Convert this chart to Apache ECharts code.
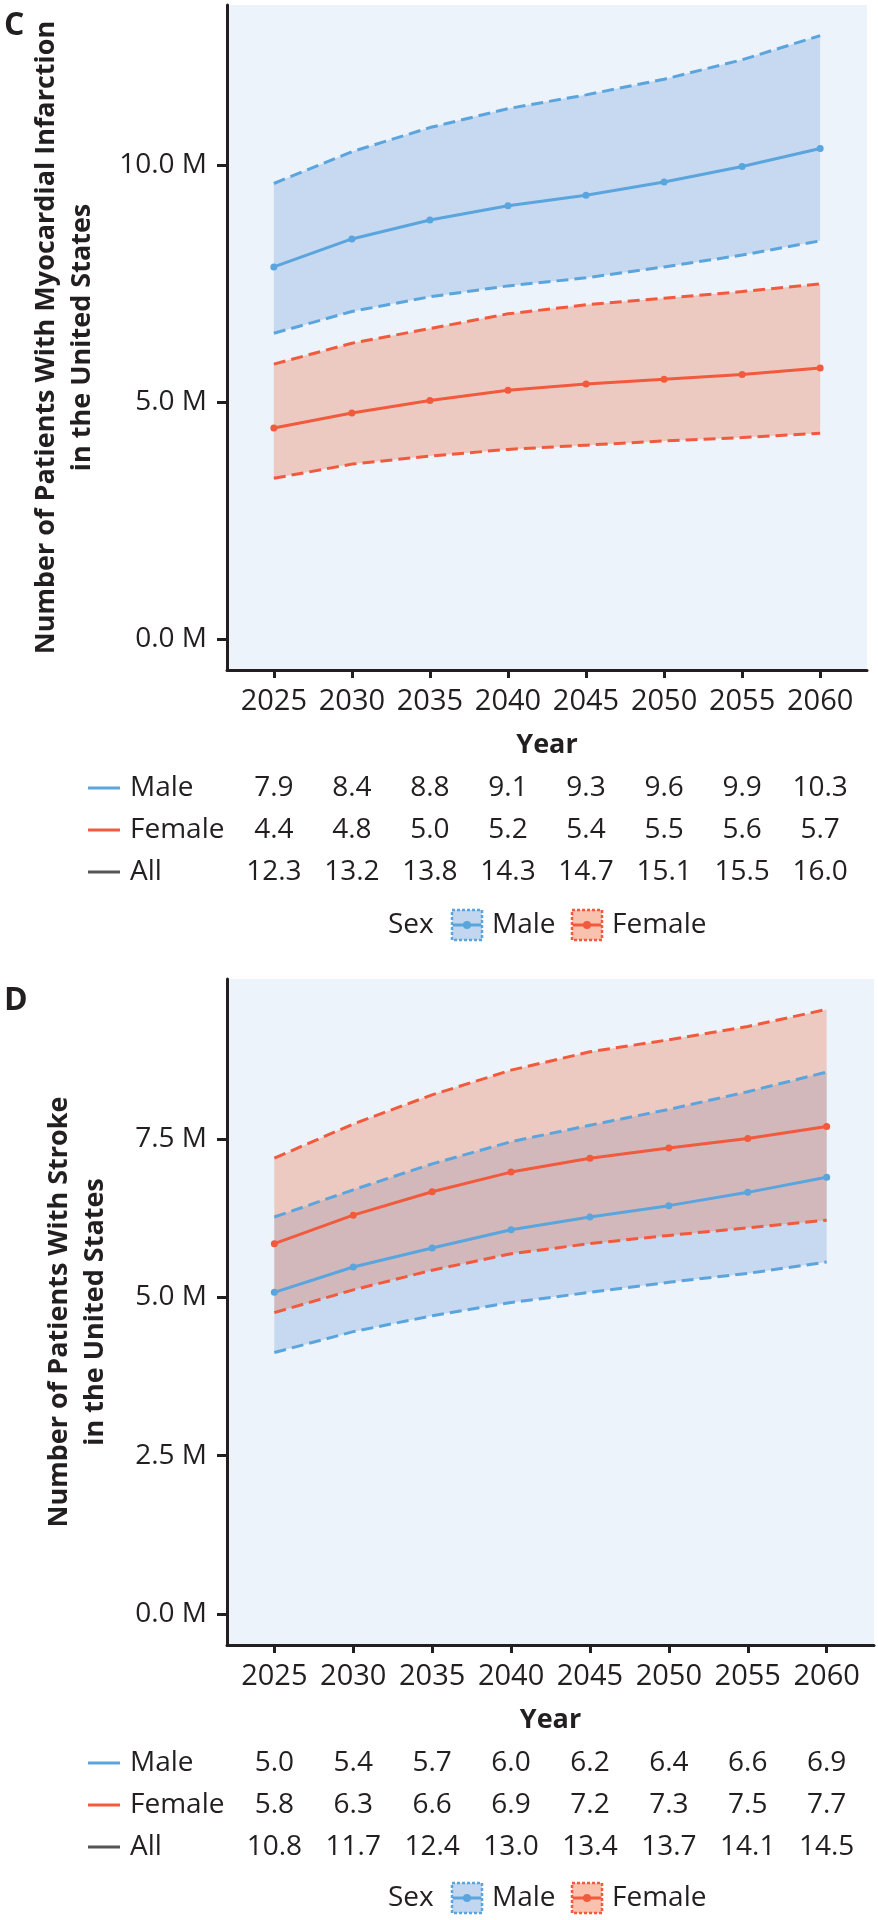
<!DOCTYPE html>
<html><head><meta charset="utf-8">
<script src="https://cdn.jsdelivr.net/npm/echarts@6/dist/echarts.min.js"></script>
<style>html,body{margin:0;padding:0;background:#fff}#c{width:878px;height:1920px}</style>
</head><body><div id="c"></div>
<script>
// ---------- data ----------
const years = [2025, 2030, 2035, 2040, 2045, 2050, 2055, 2060];

// Panel C: myocardial infarction (millions)
const miMaleMean   = [7.85, 8.44, 8.84, 9.14, 9.36, 9.64, 9.97, 10.35];
const miMaleLow    = [6.45, 6.91, 7.22, 7.45, 7.62, 7.85, 8.10, 8.40];
const miMaleHigh   = [9.61, 10.28, 10.79, 11.19, 11.48, 11.81, 12.22, 12.73];
const miFemaleMean = [4.45, 4.77, 5.03, 5.25, 5.38, 5.48, 5.58, 5.72];
const miFemaleLow  = [3.39, 3.69, 3.86, 4.00, 4.09, 4.18, 4.25, 4.34];
const miFemaleHigh = [5.80, 6.24, 6.55, 6.86, 7.05, 7.19, 7.33, 7.49];
const miTableMale   = ['7.9', '8.4', '8.8', '9.1', '9.3', '9.6', '9.9', '10.3'];
const miTableFemale = ['4.4', '4.8', '5.0', '5.2', '5.4', '5.5', '5.6', '5.7'];
const miTableAll    = ['12.3', '13.2', '13.8', '14.3', '14.7', '15.1', '15.5', '16.0'];
const miTicks = [0, 5, 10];

// Panel D: stroke (millions)
const stMaleMean   = [5.08, 5.48, 5.78, 6.07, 6.27, 6.45, 6.66, 6.90];
const stMaleLow    = [4.13, 4.46, 4.71, 4.92, 5.08, 5.24, 5.38, 5.56];
const stMaleHigh   = [6.27, 6.70, 7.11, 7.46, 7.72, 7.97, 8.25, 8.56];
const stFemaleMean = [5.85, 6.30, 6.67, 6.98, 7.20, 7.36, 7.51, 7.70];
const stFemaleLow  = [4.76, 5.12, 5.43, 5.69, 5.85, 5.98, 6.10, 6.22];
const stFemaleHigh = [7.20, 7.74, 8.20, 8.59, 8.88, 9.07, 9.28, 9.55];
const stTableMale   = ['5.0', '5.4', '5.7', '6.0', '6.2', '6.4', '6.6', '6.9'];
const stTableFemale = ['5.8', '6.3', '6.6', '6.9', '7.2', '7.3', '7.5', '7.7'];
const stTableAll    = ['10.8', '11.7', '12.4', '13.0', '13.4', '13.7', '14.1', '14.5'];
const stTicks = [0, 2.5, 5, 7.5];

const rowLabels = ['Male', 'Female', 'All'];
const legendLabels = ['Male', 'Female'];

// ---------- style ----------
const FONT = 'Open Sans';
const INK = '#231f20';
const BLUE = '#5aa5dd', RED = '#f15a3d', GREY = '#555555';
const BLUE_FILL = 'rgba(109,160,218,0.30)', RED_FILL = 'rgba(239,110,61,0.30)';
const PLOT_BG = '#ecf3fb';

const chart = echarts.init(document.getElementById('c'), null, {renderer: 'canvas'});

function pairs(arr) { return years.map((y, i) => [y, arr[i]]); }

function band(gi, low, high, fill) {
  return {
    type: 'custom', xAxisIndex: gi * 4, yAxisIndex: gi, z: 1, silent: true,
    data: years.map((y, i) => [y, low[i], high[i]]),
    encode: {x: 0, y: [1, 2]},
    renderItem: function (params, api) {
      if (params.dataIndex !== 0) return null;
      const pts = [];
      for (let i = 0; i < years.length; i++) pts.push(api.coord([years[i], high[i]]));
      for (let i = years.length - 1; i >= 0; i--) pts.push(api.coord([years[i], low[i]]));
      return {type: 'polygon', shape: {points: pts}, style: {fill: fill}};
    }
  };
}

function line(gi, arr, color, dashed) {
  return {
    type: 'line', xAxisIndex: gi * 4, yAxisIndex: gi, data: pairs(arr), z: dashed ? 2 : 3,
    symbol: dashed ? 'none' : 'circle', symbolSize: 7, showSymbol: !dashed,
    lineStyle: {color: color, width: 3, type: dashed ? [12, 6] : 'solid'},
    itemStyle: {color: color}, silent: true
  };
}

function mainX(gi) {
  return {
    gridIndex: gi, type: 'value', min: 2022, max: 2063,
    axisLine: {show: true, onZero: false, lineStyle: {color: INK, width: 3}},
    axisTick: {show: true, customValues: years, length: 8, lineStyle: {color: INK, width: 3}},
    axisLabel: {customValues: years, fontSize: 29, color: INK, margin: 17, fontFamily: FONT,
      formatter: v => String(v)},
    splitLine: {show: false},
    name: 'Year', nameLocation: 'middle', nameGap: 62,
    nameTextStyle: {fontSize: 27, fontWeight: 'bold', color: INK, fontFamily: FONT}
  };
}

function rowX(gi, table, offset) {
  return {
    gridIndex: gi, type: 'value', min: 2022, max: 2063, position: 'bottom', offset: offset,
    axisLine: {show: false}, axisTick: {show: false}, splitLine: {show: false},
    axisLabel: {customValues: years, fontSize: 28, color: INK, margin: 0, verticalAlign: 'middle',
      fontFamily: FONT, formatter: v => table[years.indexOf(v)]}
  };
}

function yAx(gi, min, max, ticks, name, gap) {
  return {
    gridIndex: gi, type: 'value', min: min, max: max,
    axisLine: {show: true, onZero: false, lineStyle: {color: INK, width: 3}},
    axisTick: {show: true, customValues: ticks, length: 10, lineStyle: {color: INK, width: 3}},
    axisLabel: {customValues: ticks, fontSize: 28, color: INK, margin: 20, fontFamily: FONT,
      formatter: v => v.toFixed(1) + ' M'},
    splitLine: {show: false},
    name: name, nameLocation: 'middle', nameRotate: 90, nameGap: gap,
    nameTextStyle: {fontSize: 27, fontWeight: 'bold', color: INK, lineHeight: 36, fontFamily: FONT}
  };
}

function rowLabelGraphics(axisY) {
  const cols = [BLUE, RED, GREY];
  const offs = [118, 160, 202];
  const out = [];
  rowLabels.forEach((t, i) => {
    const y = axisY + offs[i];
    out.push({type: 'line', shape: {x1: 88, y1: y, x2: 120, y2: y}, style: {stroke: cols[i], lineWidth: 3}});
    out.push({type: 'text', x: 130, y: y, style: {text: t, fontSize: 28, fontFamily: FONT, fill: INK,
      verticalAlign: 'middle'}});
  });
  return out;
}

function legendGraphics(cy) {
  const out = [];
  out.push({type: 'text', x: 388, y: cy, style: {text: 'Sex', fontSize: 28, fontFamily: FONT, fill: INK, verticalAlign: 'middle'}});
  const items = [
    {x: 452, color: BLUE, fill: 'rgba(109,160,218,0.42)', label: legendLabels[0]},
    {x: 572, color: RED, fill: 'rgba(239,110,61,0.42)', label: legendLabels[1]}
  ];
  items.forEach(it => {
    out.push({type: 'rect', shape: {x: it.x, y: cy - 15, width: 30, height: 30},
      style: {fill: it.fill, stroke: it.color, lineWidth: 2.5, lineDash: [3, 2]}});
    out.push({type: 'line', shape: {x1: it.x + 1, y1: cy, x2: it.x + 29, y2: cy}, style: {stroke: it.color, lineWidth: 3}});
    out.push({type: 'circle', shape: {cx: it.x + 15, cy: cy, r: 4}, style: {fill: it.color}});
    out.push({type: 'text', x: it.x + 40, y: cy, style: {text: it.label, fontSize: 28, fontFamily: FONT, fill: INK, verticalAlign: 'middle'}});
  });
  return out;
}

const graphics = [
  {type: 'text', x: 4, y: 26, style: {text: 'C', fontSize: 32, fontWeight: 'bold', fontFamily: FONT, fill: INK, verticalAlign: 'middle'}},
  {type: 'text', x: 4, y: 1001, style: {text: 'D', fontSize: 32, fontWeight: 'bold', fontFamily: FONT, fill: INK, verticalAlign: 'middle'}}
].concat(rowLabelGraphics(670), rowLabelGraphics(1645), legendGraphics(925), legendGraphics(1898));

const option = {
  animation: false,
  backgroundColor: '#ffffff',
  textStyle: {fontFamily: FONT},
  grid: [
    {left: 227, right: 11, top: 5, height: 665, show: true, backgroundColor: PLOT_BG, borderWidth: 0, containLabel: false},
    {left: 227, right: 4, top: 979, height: 666, show: true, backgroundColor: PLOT_BG, borderWidth: 0, containLabel: false}
  ],
  xAxis: [
    mainX(0), rowX(0, miTableMale, 118), rowX(0, miTableFemale, 160), rowX(0, miTableAll, 202),
    mainX(1), rowX(1, stTableMale, 118), rowX(1, stTableFemale, 160), rowX(1, stTableAll, 202)
  ],
  yAxis: [
    yAx(0, -0.654, 13.376, miTicks, 'Number of Patients With Myocardial Infarction\nin the United States', 127),
    yAx(1, -0.49, 10.03, stTicks, 'Number of Patients With Stroke\nin the United States', 114)
  ],
  series: [
    band(0, miMaleLow, miMaleHigh, BLUE_FILL),
    band(0, miFemaleLow, miFemaleHigh, RED_FILL),
    line(0, miMaleLow, BLUE, true), line(0, miMaleHigh, BLUE, true),
    line(0, miFemaleLow, RED, true), line(0, miFemaleHigh, RED, true),
    line(0, miMaleMean, BLUE, false), line(0, miFemaleMean, RED, false),
    band(1, stMaleLow, stMaleHigh, BLUE_FILL),
    band(1, stFemaleLow, stFemaleHigh, RED_FILL),
    line(1, stMaleLow, BLUE, true), line(1, stMaleHigh, BLUE, true),
    line(1, stFemaleLow, RED, true), line(1, stFemaleHigh, RED, true),
    line(1, stMaleMean, BLUE, false), line(1, stFemaleMean, RED, false)
  ],
  graphic: graphics
};
chart.setOption(option);
</script></body></html>
